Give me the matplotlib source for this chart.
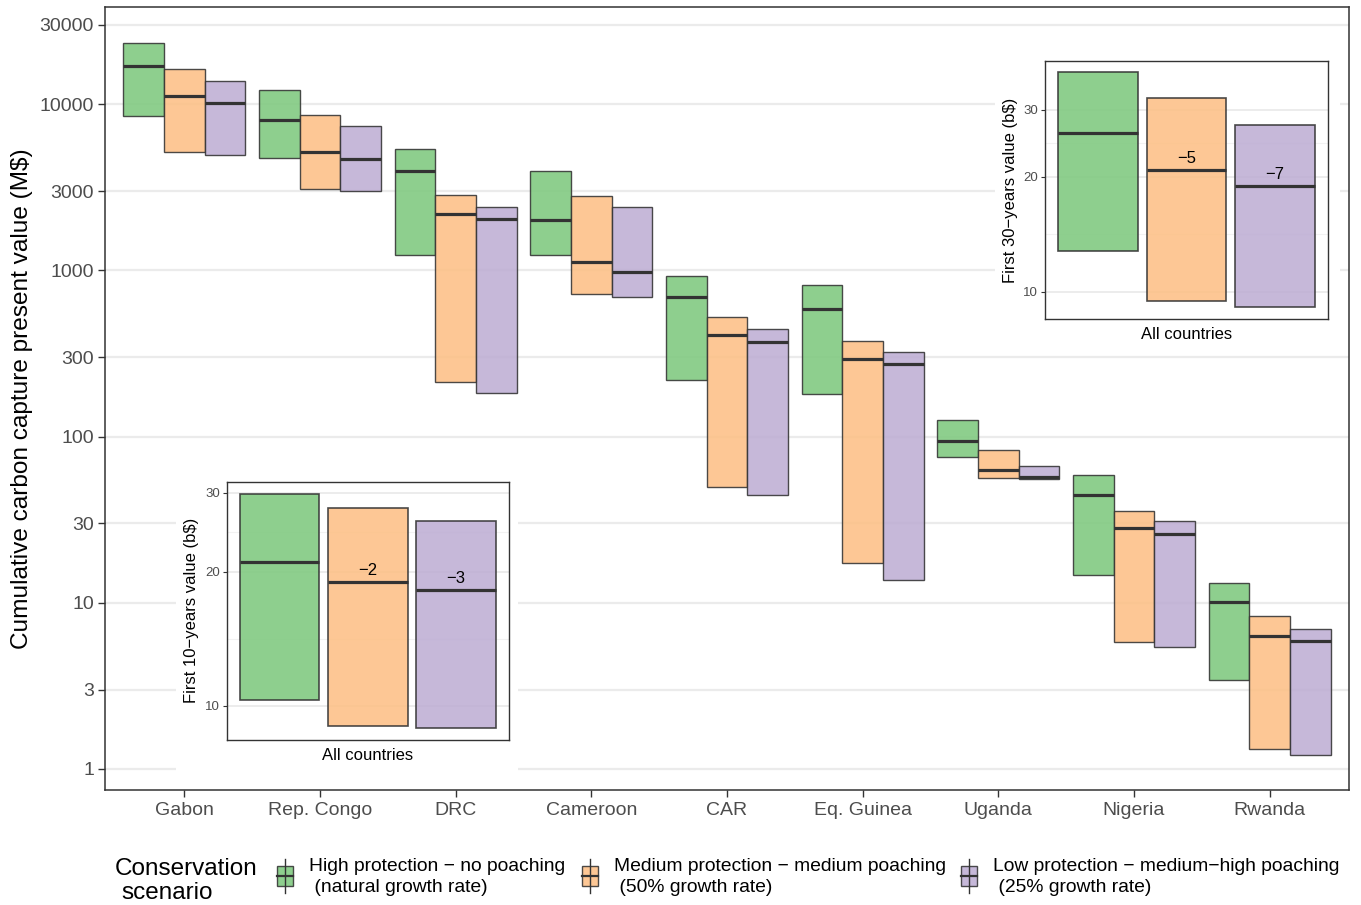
import numpy as np
import matplotlib
matplotlib.use("Agg")
import matplotlib.pyplot as plt
from matplotlib.patches import Rectangle
from matplotlib.lines import Line2D

plt.rcParams['font.family'] = ['Liberation Sans', 'DejaVu Sans']

countries = ["Gabon", "Rep. Congo", "DRC", "Cameroon", "CAR", "Eq. Guinea", "Uganda", "Nigeria", "Rwanda"]
scenarios = ["High protection \u2212 no poaching\n (natural growth rate)",
             "Medium protection \u2212 medium poaching\n (50% growth rate)",
             "Low protection \u2212 medium\u2212high poaching\n (25% growth rate)"]
colors = ["#7FC97F", "#FDC086", "#BEAED4"]

# main chart values (M$): low, median, high per scenario
high_low = [8490, 4750, 1238, 1238, 219, 180, 75.4, 14.7, 3.43]
high_med = [16980, 8030, 3963, 2011, 692, 586, 94.1, 44.5, 10.1]
high_high = [23350, 12170, 5375, 3963, 925, 817, 126, 58.7, 13.2]
med_low = [5160, 3090, 213, 721, 49.7, 17.4, 56.3, 5.81, 1.32]
med_med = [11200, 5160, 2184, 1124, 409, 293, 63.0, 28.2, 6.31]
med_high = [16290, 8610, 2843, 2803, 524, 376, 83.0, 35.7, 8.33]
low_low = [4950, 3005, 183, 692, 44.5, 13.7, 55.6, 5.42, 1.21]
low_med = [10170, 4680, 2038, 978, 371, 273, 57.1, 25.9, 5.89]
low_high = [13790, 7390, 2406, 2406, 444, 323, 66.5, 31.1, 6.96]

# insets (b$)
y30_low = [12.8, 9.45, 9.12]
y30_med = [26.0, 20.8, 18.9]
y30_high = [37.6, 32.2, 27.4]
y30_labels = ["", "\u22125", "\u22127"]
y10_low = [10.3, 9.01, 8.90]
y10_med = [20.97, 18.9, 18.2]
y10_high = [29.9, 27.8, 25.9]
y10_labels = ["", "\u22122", "\u22123"]

main_ticks = [1, 3, 10, 30, 100, 300, 1000, 3000, 10000, 30000]
inset_ticks = [10, 20, 30]

EDGE = "#333333"
TXT = "#4D4D4D"
GRID = "#EBEBEB"

fig = plt.figure(figsize=(13.61, 9.05), dpi=100)
ax = fig.add_axes([0.0772, 0.1271, 0.9140, 0.8652])

lows = [high_low, med_low, low_low]
meds = [high_med, med_med, low_med]
highs = [high_high, med_high, low_high]
x = np.arange(1, len(countries) + 1)
w = 0.3
for i in range(3):
    xs = x + (i - 1) * w
    lo = np.array(lows[i]); hi = np.array(highs[i]); md = np.array(meds[i])
    ax.bar(xs, hi - lo, bottom=lo, width=w, color=colors[i], alpha=0.88,
           edgecolor=EDGE, linewidth=1.0, zorder=3)
    ax.hlines(md, xs - w / 2, xs + w / 2, color=EDGE, linewidth=2.3, zorder=4)

ax.set_yscale("log")
ax.set_ylim(10 ** ((769 - 790) / 166.2), 10 ** ((769 - 7) / 166.2))
ax.set_xlim(0.415, 9.585)
ax.set_yticks(main_ticks)
ax.set_yticklabels([str(t) for t in main_ticks])
ax.yaxis.set_minor_locator(matplotlib.ticker.NullLocator())
ax.set_xticks(x)
ax.set_xticklabels(countries)
ax.grid(True, axis="y", color=GRID, linewidth=1.6, zorder=0)
ax.set_axisbelow(True)
ax.tick_params(axis="both", colors=EDGE, labelcolor=TXT, labelsize=14, length=5, width=1)
ax.tick_params(axis="x", pad=4)
ax.tick_params(axis="y", pad=3)
for s in ax.spines.values():
    s.set_color(EDGE)
    s.set_linewidth(1.1)
ax.set_ylabel("Cumulative carbon capture present value (M$)", fontsize=17.6, color="black", labelpad=5)

# white backgrounds behind insets (figure pixel-based)
W, H = 1361, 905
def fig_rect(x0, y0, x1, y1):
    r = Rectangle((x0 / W, 1 - y1 / H), (x1 - x0) / W, (y1 - y0) / H, transform=fig.transFigure,
                  facecolor="white", edgecolor="none", zorder=1)
    fig.patches.append(r)
fig_rect(995, 48, 1340, 347)
fig_rect(176, 468, 518, 776)

def inset(rect, lo, md, hi, labels, ylab, ylim):
    a = fig.add_axes(rect, zorder=3)
    xi = np.array([-1, 0, 1])
    wi = 0.9
    a.bar(xi, np.array(hi) - np.array(lo), bottom=lo, width=wi, color=colors, alpha=0.88,
          edgecolor=EDGE, linewidth=1.2, zorder=3)
    a.hlines(md, xi - wi / 2, xi + wi / 2, color=EDGE, linewidth=2.3, zorder=4)
    for xx, m, lab in zip(xi, md, labels):
        if lab:
            a.annotate(lab, (xx, m), xytext=(0, 3), textcoords="offset points",
                       ha="center", va="bottom", fontsize=12, color="black", zorder=5)
    a.set_yscale("log")
    a.set_ylim(*ylim)
    a.set_xlim(-1.6, 1.6)
    a.set_yticks(inset_ticks)
    a.set_yticklabels([str(t) for t in inset_ticks])
    a.set_yticks([10 ** 1.1505, 10 ** 1.389], minor=True)
    a.yaxis.set_minor_formatter(matplotlib.ticker.NullFormatter())
    a.tick_params(axis="y", which="minor", length=0)
    a.grid(True, axis="y", which="major", color=GRID, linewidth=1.3, zorder=0)
    a.grid(True, axis="y", which="minor", color="#F2F2F2", linewidth=0.8, zorder=0)
    a.set_axisbelow(True)
    a.set_xticks([0])
    a.set_xticklabels(["All countries"])
    a.tick_params(axis="x", length=0, labelsize=12, labelcolor="black", pad=6)
    a.tick_params(axis="y", colors=EDGE, labelcolor=TXT, labelsize=9.5, length=3, width=0.8, pad=2)
    for s in a.spines.values():
        s.set_color(EDGE)
        s.set_linewidth(1.0)
    a.set_ylabel(ylab, fontsize=12, color="black", labelpad=4)
    return a

inset([1045 / W, 1 - 319 / H, 283 / W, 258 / H], y30_low, y30_med, y30_high, y30_labels,
      "First 30\u2212years value (b$)", (8.48, 40.2))
inset([226.7 / W, 1 - 740 / H, 282.3 / W, 258.3 / H], y10_low, y10_med, y10_high, y10_labels,
      "First 10\u2212years value (b$)", (8.38, 31.8))

# legend (manual, bottom)
lg = fig.add_axes([0, 0, 1, 1], zorder=4)
lg.set_xlim(0, W)
lg.set_ylim(H, 0)
lg.axis("off")
lg.text(115, 869, "Conservation", fontsize=17.5, ha="left", va="center")
lg.text(121, 893, "scenario", fontsize=17.5, ha="left", va="center")
key_x = [285, 590, 969]
for kx, c, lab in zip(key_x, colors, scenarios):
    lg.add_line(Line2D([kx, kx], [859, 893], color=EDGE, linewidth=1.0))
    lg.add_patch(Rectangle((kx - 8, 866), 16, 20, facecolor=c, alpha=0.88, edgecolor=EDGE, linewidth=1.0))
    lg.add_line(Line2D([kx - 8, kx + 8], [876, 876], color=EDGE, linewidth=1.6))
    lg.text(kx + 24, 877, lab, fontsize=13.9, ha="left", va="center", linespacing=1.33)

fig.savefig("out.png", dpi=100)
